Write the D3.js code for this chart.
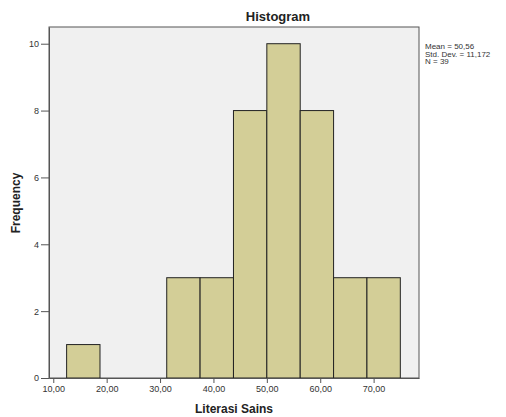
<!DOCTYPE html>
<html><head><meta charset="utf-8">
<script src="https://cdn.jsdelivr.net/npm/d3@7"></script>
<style>body{margin:0;background:#fff;}svg{display:block;font-family:Arial,"Liberation Sans",sans-serif;}</style>
</head><body><svg id="c" width="506" height="417"></svg>
<script>
const binStarts = [12.5, 18.75, 25, 31.25, 37.5, 43.75, 50, 56.25, 62.5, 68.75];
const binWidth = 6.25;
const counts = [1, 0, 0, 3, 3, 8, 10, 8, 3, 3];
const xTicks = [10, 20, 30, 40, 50, 60, 70];
const xTickLabels = ["10,00", "20,00", "30,00", "40,00", "50,00", "60,00", "70,00"];
const yTicks = [0, 2, 4, 6, 8, 10];
const stats = ["Mean = 50,56", "Std. Dev. = 11,172", "N = 39"];

const svg = d3.select("#c");
const L = 49, R = 419, T = 27, B = 378;
const x = d3.scaleLinear().domain([9.2, 78.5]).range([L, R]);
const y = d3.scaleLinear().domain([0, 10.5]).range([B, T]);

svg.append("rect").attr("x", L).attr("y", T).attr("width", R - L).attr("height", B - T)
  .attr("fill", "#f0f0f0").attr("stroke", "#555").attr("stroke-width", 1);

svg.append("g").selectAll("rect").data(binStarts.map((s, i) => ({s, c: counts[i]})).filter(d => d.c > 0))
  .join("rect")
  .attr("x", d => x(d.s)).attr("width", d => x(d.s + binWidth) - x(d.s))
  .attr("y", d => y(d.c)).attr("height", d => y(0) - y(d.c))
  .attr("fill", "#d3ce97").attr("stroke", "#222").attr("stroke-width", 1);

const xa = svg.append("g").attr("transform", `translate(0,${B})`)
  .call(d3.axisBottom(x).tickValues(xTicks).tickFormat((d, i) => xTickLabels[i]).tickSizeInner(5).tickSizeOuter(0).tickPadding(3));
xa.select(".domain").attr("stroke", "#555");
xa.selectAll("line").attr("stroke", "#555");
xa.selectAll("text").attr("font-size", 9).attr("fill", "#333").attr("font-family", "Arial,'Liberation Sans',sans-serif");

const ya = svg.append("g").attr("transform", `translate(${L},0)`)
  .call(d3.axisLeft(y).tickValues(yTicks).tickSizeInner(8).tickSizeOuter(0).tickPadding(2));
ya.select(".domain").attr("stroke", "#555");
ya.selectAll("line").attr("stroke", "#555");
ya.selectAll("text").attr("font-size", 9).attr("fill", "#333").attr("font-family", "Arial,'Liberation Sans',sans-serif");

svg.append("text").attr("x", 278).attr("y", 21).attr("text-anchor", "middle")
  .attr("font-size", 13).attr("font-weight", "bold").attr("fill", "#222").text("Histogram");
svg.append("text").attr("x", 234).attr("y", 413).attr("text-anchor", "middle")
  .attr("font-size", 12).attr("font-weight", "bold").attr("fill", "#222").text("Literasi Sains");
svg.append("text").attr("transform", "translate(20,203) rotate(-90)").attr("text-anchor", "middle")
  .attr("font-size", 12).attr("font-weight", "bold").attr("fill", "#222").text("Frequency");

svg.append("g").selectAll("text").data(stats).join("text")
  .attr("x", 425).attr("y", (d, i) => 49 + i * 7.5)
  .attr("font-size", 8).attr("fill", "#333").text(d => d);
</script></body></html>
